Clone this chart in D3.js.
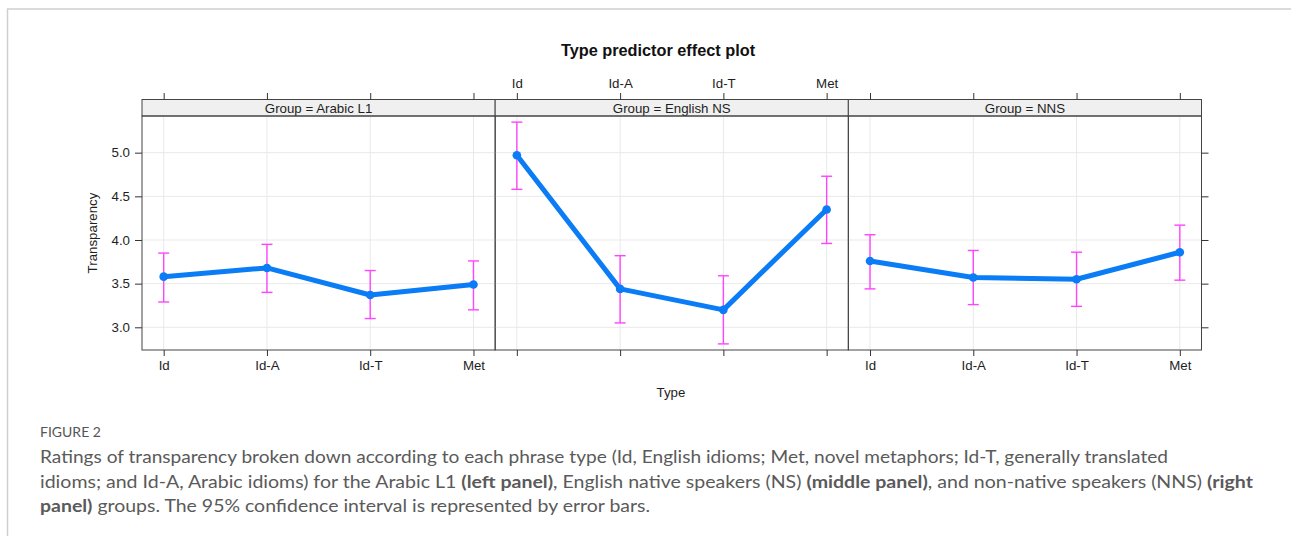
<!DOCTYPE html>
<html>
<head>
<meta charset="utf-8">
<script src="https://cdn.jsdelivr.net/npm/d3@7"></script>
<style>
  html, body { margin: 0; padding: 0; background: #fff; }
  svg { display: block; }
</style>
</head>
<body>
<svg id="chart" width="1291" height="537"></svg>
<script>
// Phrase types on the x axis
const types = ["Id", "Id-A", "Id-T", "Met"];
// Panels (one per speaker group)
const groups = ["Arabic L1", "English NS", "NNS"];
// Fitted transparency and 95% CI per group, in type order
const fitArabic  = [3.58, 3.68, 3.37, 3.49];
const lowArabic  = [3.29, 3.40, 3.10, 3.20];
const highArabic = [3.85, 3.95, 3.65, 3.76];
const fitEnglish  = [4.97, 3.44, 3.20, 4.35];
const lowEnglish  = [4.58, 3.05, 2.81, 3.96];
const highEnglish = [5.35, 3.82, 3.59, 4.73];
const fitNNS  = [3.76, 3.57, 3.55, 3.86];
const lowNNS  = [3.44, 3.26, 3.24, 3.54];
const highNNS = [4.06, 3.88, 3.86, 4.17];
// y tick values
const yTicks = [3.0, 3.5, 4.0, 4.5, 5.0];

const panelData = [
  { group: groups[0], fit: fitArabic,  low: lowArabic,  high: highArabic },
  { group: groups[1], fit: fitEnglish, low: lowEnglish, high: highEnglish },
  { group: groups[2], fit: fitNNS,     low: lowNNS,     high: highNNS }
];

const svg = d3.select("#chart");
const axisFont = "'Liberation Sans', Arial, sans-serif";
const axisSize = 13.3;
const textCol = "#1e1e1e";

// Outer frame of the figure
svg.append("path")
  .attr("d", "M7.5,536 L7.5,9 L1291,9")
  .attr("fill", "none").attr("stroke", "#cfcfcf").attr("stroke-width", 1.5);

const plotLeft = 142, plotRight = 1201.5;
const plotTop = 116, plotBottom = 350, stripTop = 99.5;
const panelW = (plotRight - plotLeft) / groups.length;

const y = d3.scaleLinear().domain([2.74, 5.42]).range([plotBottom, plotTop]);

// Title
svg.append("text")
  .attr("x", 658).attr("y", 56).attr("text-anchor", "middle")
  .attr("font-family", axisFont).attr("font-weight", "bold")
  .attr("font-size", 16.3).attr("fill", "#111")
  .text("Type predictor effect plot");

function styleAxis(sel) {
  sel.select(".domain").remove();
  sel.selectAll("line").attr("stroke", "#333");
  sel.selectAll("text").attr("font-family", axisFont).attr("font-size", axisSize).attr("fill", textCol);
}

panelData.forEach((p, i) => {
  const x0 = plotLeft + i * panelW, x1 = x0 + panelW;
  const x = d3.scalePoint().domain(types).range([x0, x1]).padding(0.21);
  const g = svg.append("g");

  // grid
  g.selectAll(".hg").data(yTicks).join("line")
    .attr("x1", x0).attr("x2", x1)
    .attr("y1", d => y(d)).attr("y2", d => y(d))
    .attr("stroke", "#e9e9e9").attr("stroke-width", 1);
  g.selectAll(".vg").data(types).join("line")
    .attr("x1", d => x(d)).attr("x2", d => x(d))
    .attr("y1", plotTop).attr("y2", plotBottom)
    .attr("stroke", "#e9e9e9").attr("stroke-width", 1);

  // strip
  g.append("rect")
    .attr("x", x0).attr("y", stripTop).attr("width", panelW).attr("height", plotTop - stripTop)
    .attr("fill", "#f0f0f0").attr("stroke", "#444").attr("stroke-width", 1);
  g.append("text")
    .attr("x", (x0 + x1) / 2).attr("y", plotTop - 3.3).attr("text-anchor", "middle")
    .attr("font-family", axisFont).attr("font-size", axisSize).attr("fill", textCol)
    .text("Group = " + p.group);

  // panel border
  g.append("rect")
    .attr("x", x0).attr("y", plotTop).attr("width", panelW).attr("height", plotBottom - plotTop)
    .attr("fill", "none").attr("stroke", "#444").attr("stroke-width", 1);

  // bottom axis
  const bottom = d3.axisBottom(x).tickSizeOuter(0).tickSize(6).tickPadding(5);
  if (i === 1) bottom.tickFormat("");
  styleAxis(svg.append("g").attr("transform", `translate(0,${plotBottom})`).call(bottom));

  // top axis
  const top = d3.axisTop(x).tickSizeOuter(0).tickSize(6.5).tickPadding(5);
  if (i !== 1) top.tickFormat("");
  styleAxis(svg.append("g").attr("transform", `translate(0,${stripTop})`).call(top));

  // fitted line
  const pts = types.map((t, k) => ({ t, v: p.fit[k], lo: p.low[k], hi: p.high[k] }));
  g.append("path")
    .datum(pts)
    .attr("d", d3.line().x(d => x(d.t)).y(d => y(d.v)))
    .attr("fill", "none").attr("stroke", "#0a7cf5").attr("stroke-width", 5)
    .attr("stroke-linejoin", "round");

  // confidence bars
  const eb = g.selectAll(".eb").data(pts).join("g").attr("stroke", "#ff44ff").attr("stroke-width", 1.4);
  eb.append("line").attr("x1", d => x(d.t)).attr("x2", d => x(d.t))
    .attr("y1", d => y(d.lo)).attr("y2", d => y(d.hi));
  eb.append("line").attr("x1", d => x(d.t) - 5.5).attr("x2", d => x(d.t) + 5.5)
    .attr("y1", d => y(d.lo)).attr("y2", d => y(d.lo));
  eb.append("line").attr("x1", d => x(d.t) - 5.5).attr("x2", d => x(d.t) + 5.5)
    .attr("y1", d => y(d.hi)).attr("y2", d => y(d.hi));

  // points
  g.selectAll(".pt").data(pts).join("circle")
    .attr("cx", d => x(d.t)).attr("cy", d => y(d.v)).attr("r", 4.3)
    .attr("fill", "#0a7cf5");
});

// left y axis
styleAxis(svg.append("g").attr("transform", `translate(${plotLeft},0)`)
  .call(d3.axisLeft(y).tickValues(yTicks).tickFormat(d3.format(".1f")).tickSize(7).tickPadding(5).tickSizeOuter(0)));

// right y axis (ticks only)
styleAxis(svg.append("g").attr("transform", `translate(${plotRight},0)`)
  .call(d3.axisRight(y).tickValues(yTicks).tickFormat("").tickSize(7).tickSizeOuter(0)));

// axis titles
svg.append("text")
  .attr("x", 671).attr("y", 397).attr("text-anchor", "middle")
  .attr("font-family", axisFont).attr("font-size", axisSize).attr("fill", textCol)
  .text("Type");
svg.append("text")
  .attr("transform", "translate(97,233) rotate(-90)").attr("text-anchor", "middle")
  .attr("font-family", axisFont).attr("font-size", axisSize).attr("fill", textCol)
  .text("Transparency");

// Caption
const capFont = "Lato, 'Open Sans', sans-serif";
svg.append("text")
  .attr("x", 40).attr("y", 437)
  .attr("font-family", capFont).attr("font-size", 14).attr("fill", "#555")
  .text("FIGURE 2");

const captionLines = [
  [["Ratings of transparency broken down according to each phrase type (Id, English idioms; Met, novel metaphors; Id-T, generally translated", false]],
  [["idioms; and Id-A, Arabic idioms) for the Arabic L1 ", false], ["(left panel)", true], [", English native speakers (NS) ", false],
   ["(middle panel)", true], [", and non-native speakers (NNS) ", false], ["(right", true]],
  [["panel)", true], [" groups. The 95% confidence interval is represented by error bars.", false]]
];
const lineEnds = [1168, 1253, 650];
captionLines.forEach((segs, li) => {
  const t = svg.append("text")
    .attr("x", 40).attr("y", 463 + li * 24.5)
    .attr("font-family", capFont).attr("font-size", 17.5).attr("fill", "#5a5a5a")
    .attr("xml:space", "preserve");
  segs.forEach(([s, b]) => {
    t.append("tspan").attr("font-weight", b ? "bold" : "normal").text(s);
  });
  t.attr("textLength", lineEnds[li] - 40).attr("lengthAdjust", "spacingAndGlyphs");
});
</script>
</body>
</html>
